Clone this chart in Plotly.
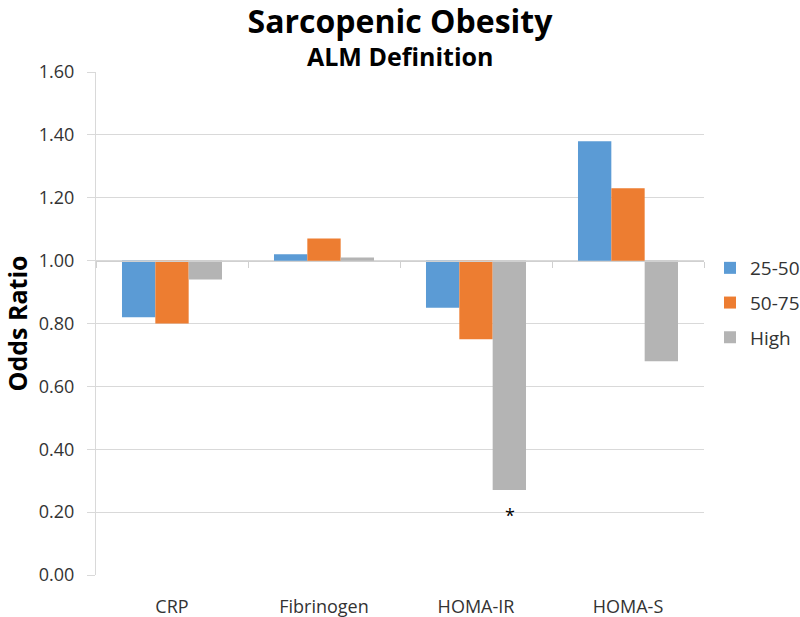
import plotly.graph_objects as go

categories = ["CRP", "Fibrinogen", "HOMA-IR", "HOMA-S"]
series_names = ["25-50", "50-75", "High"]
q25_50 = [0.82, 1.02, 0.85, 1.38]
q50_75 = [0.80, 1.07, 0.75, 1.23]
high = [0.94, 1.01, 0.27, 0.68]
colors = ["#5B9BD5", "#ED7D31", "#B4B4B4"]
baseline = 1.0
y_ticks = [0.0, 0.2, 0.4, 0.6, 0.8, 1.0, 1.2, 1.4, 1.6]
y_range = [0.0, 1.6]

FONT = "'Open Sans', sans-serif"
TXT = "#333333"

fig = go.Figure()
for name, vals, col in zip(series_names, [q25_50, q50_75, high], colors):
    fig.add_trace(go.Bar(
        x=categories, y=[v - baseline for v in vals], base=baseline,
        name=name, marker=dict(color=col, line=dict(width=0)),
        legendgroup=name,
    ))

# category-boundary axis crossing at 1.00
fig.add_trace(go.Scatter(x=[None], y=[None], xaxis="x2", showlegend=False, hoverinfo="skip"))

frac = (baseline - y_range[0]) / (y_range[1] - y_range[0])

fig.update_layout(
    width=800, height=617,
    margin=dict(l=96, r=96, t=72, b=42, autoexpand=False),
    paper_bgcolor="white", plot_bgcolor="white",
    barmode="group", bargap=0.342, bargroupgap=0,
    font=dict(family=FONT, color=TXT, size=18),
    title=dict(text="<b>Sarcopenic Obesity</b>", x=0.5, xref="paper",
               y=1 - 22 / 617, yref="container", yanchor="middle",
               font=dict(size=32, color="black", family=FONT)),
    annotations=[
        dict(text="<b>ALM Definition</b>", x=0.5, xref="paper", y=1 + 16 / 503, yref="paper",
             yanchor="middle", showarrow=False, font=dict(size=25, color="black", family=FONT)),
        dict(text="<b>Odds Ratio</b>", x=-(96 - 16) / 608, xref="paper", y=0.5, yref="paper",
             textangle=-90, xanchor="center", yanchor="middle", showarrow=False,
             font=dict(size=25, color="black", family=FONT)),
        dict(text="*", x="HOMA-IR", xref="x", xshift=34, y=high[2] - 0.08, yref="y",
             showarrow=False, font=dict(size=18, color="black", family=FONT)),
    ],
    xaxis=dict(type="category", categoryarray=categories, range=[-0.5, 3.5],
               showline=False, ticks="", showgrid=False, ticklabelstandoff=19,
               automargin=False, tickfont=dict(size=18, color=TXT)),
    xaxis2=dict(overlaying="x", anchor="free", position=frac, range=[-0.5, 3.5],
                tickvals=[-0.5, 0.5, 1.5, 2.5, 3.5], showticklabels=False,
                ticks="outside", ticklen=6, tickcolor="#D0D0D0", tickwidth=1,
                showline=True, linecolor="#D0D0D0", linewidth=1, showgrid=False,
                zeroline=False, automargin=False),
    yaxis=dict(range=y_range, tickvals=y_ticks, tickformat=".2f",
               showgrid=True, gridcolor="#D9D9D9", gridwidth=1,
               showline=True, linecolor="#D9D9D9", ticks="outside", ticklen=8,
               tickcolor="#D9D9D9", zeroline=False, ticklabelstandoff=9,
               automargin=False, tickfont=dict(size=18, color=TXT)),
    legend=dict(x=1 + 6 / 608, xanchor="left", y=272 / 503, yanchor="middle",
                font=dict(size=19, color=TXT), tracegroupgap=7,
                bgcolor="rgba(0,0,0,0)"),
)

fig.write_html("out.html", config={"displayModeBar": False},
               post_script="document.body.style.margin='0';")
